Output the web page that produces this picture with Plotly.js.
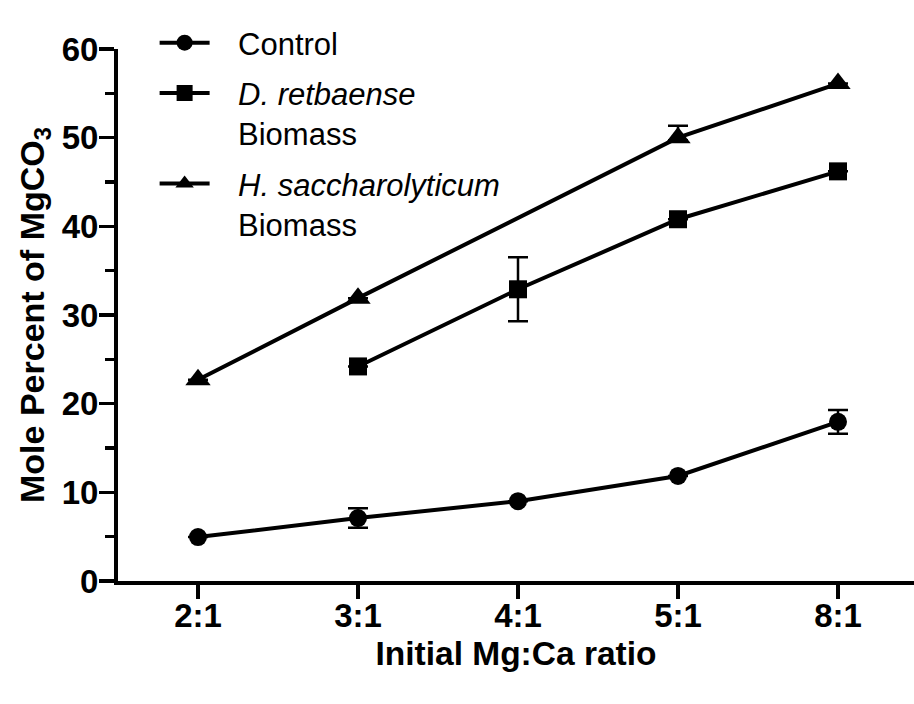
<!DOCTYPE html>
<html>
<head>
<meta charset="utf-8">
<script src="https://cdn.plot.ly/plotly-3.0.1.min.js"></script>
<style>html,body{margin:0;padding:0;background:#fff;}#chart{width:914px;height:704px;}</style>
</head>
<body>
<div id="chart"></div>
<script>
var categories = ["2:1", "3:1", "4:1", "5:1", "8:1"];
var controlValues = [4.95, 7.1, 9.0, 11.85, 17.95];
var controlErrors = [null, 1.1, null, null, 1.33];
var retbaenseValues = [null, 24.2, 32.9, 40.8, 46.2];
var retbaenseErrors = [null, null, 3.6, null, null];
var saccharValues = [22.7, 31.9, null, 50.0, 56.1];
var saccharErrorsPlus = [null, null, null, 1.35, null];
var saccharErrorsMinus = [null, null, null, 0.3, null];
var yTickValues = [0, 10, 20, 30, 40, 50, 60];
var legendNames = ["Control", "<i>D. retbaense</i><br>Biomass", "<i>H. saccharolyticum</i><br>Biomass"];

var FONT = "Liberation Sans, Arial, Helvetica, sans-serif";
var lineStyle = {color: "#000", width: 4};
var GAP = "&nbsp;&nbsp;&#8201;";
function pad(name) { return GAP + name.split("<br>").join("<br>" + GAP); }
function err(arr, minus) {
  var e = {type: "data", array: arr, visible: true, color: "#000", thickness: 2.5, width: 10};
  if (minus) { e.symmetric = false; e.arrayminus = minus; }
  return e;
}

var traces = [
  {x: categories, y: controlValues, type: "scatter", mode: "lines+markers",
   name: pad(legendNames[0]), legendgroup: "a", line: lineStyle,
   marker: {symbol: "circle", size: 18, color: "#000"},
   error_y: err(controlErrors)},
  {x: categories, y: retbaenseValues, type: "scatter", mode: "lines+markers",
   name: pad(legendNames[1]), legendgroup: "b", line: lineStyle, connectgaps: true,
   marker: {symbol: "square", size: 18, color: "#000"},
   error_y: err(retbaenseErrors)},
  {x: categories, y: saccharValues, type: "scatter", mode: "lines+markers",
   name: pad(legendNames[2]), legendgroup: "c", line: lineStyle, connectgaps: true,
   marker: {symbol: "triangle-up", size: 22, color: "#000"},
   error_y: err(saccharErrorsPlus, saccharErrorsMinus)}
];

var layout = {
  width: 914, height: 704,
  margin: {l: 118, r: 0, t: 49, b: 123, pad: 0},
  paper_bgcolor: "#fff", plot_bgcolor: "#fff",
  font: {family: FONT, color: "#000"},
  showlegend: true,
  legend: {
    x: 0.046, y: 1.062, xanchor: "left", yanchor: "top",
    bgcolor: "rgba(0,0,0,0)", borderwidth: 0,
    font: {family: FONT, size: 31, color: "#000"},
    valign: "top", itemwidth: 50, tracegroupgap: 7,
    traceorder: "grouped"
  },
  xaxis: {
    type: "category", categoryorder: "array", categoryarray: categories,
    range: [-0.5, 4.475], autorange: false,
    showline: true, linecolor: "#000", linewidth: 4,
    ticks: "outside", ticklen: 14, tickwidth: 3.5, tickcolor: "#000",
    ticklabelstandoff: -12,
    showgrid: false, zeroline: false,
    tickfont: {family: FONT, size: 33, weight: "bold", color: "#000"},
    title: {text: "Initial Mg:Ca ratio", font: {family: FONT, size: 33.5, weight: "bold", color: "#000"}, standoff: 10},
    fixedrange: true
  },
  yaxis: {
    range: [0, 60], autorange: false,
    tickmode: "array", tickvals: yTickValues,
    showline: true, linecolor: "#000", linewidth: 4,
    ticks: "outside", ticklen: 15, tickwidth: 3.5, tickcolor: "#000",
    ticklabelstandoff: -6,
    minor: {dtick: 5, tick0: 0, ticks: "outside", ticklen: 9, tickwidth: 3.5, tickcolor: "#000", showgrid: false},
    showgrid: false, zeroline: false,
    tickfont: {family: FONT, size: 33, weight: "bold", color: "#000"},
    title: {text: "Mole Percent of MgCO<sub>3</sub>", font: {family: FONT, size: 34, weight: "bold", color: "#000"}, standoff: 8},
    fixedrange: true
  }
};

Plotly.newPlot("chart", traces, layout, {displayModeBar: false, staticPlot: true});
</script>
</body>
</html>
